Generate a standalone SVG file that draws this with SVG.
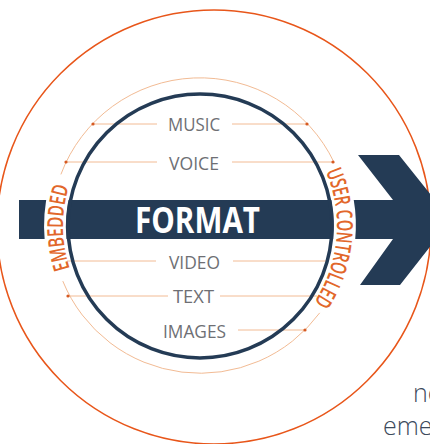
<svg xmlns="http://www.w3.org/2000/svg" width="430" height="444" viewBox="0 0 430 444">
<style>
.item{font-family:"Open Sans","Liberation Sans",sans-serif;font-size:18px;fill:#6e6f74;text-anchor:middle;}
.side{font-family:"Open Sans","Liberation Sans",sans-serif;font-size:22px;font-weight:600;fill:#e2672a;}
.ln{stroke:#f2bb94;stroke-width:1;fill:none;}
.dot{fill:#d65a22;}
.navy{fill:#243b55;}
.frag{font-family:"Open Sans","Liberation Sans",sans-serif;font-size:25px;font-weight:300;fill:#3c4a5c;}
</style>
<defs>
<path id="pR" d="M297.2,129.5 A137,137 0 0 1 278.2,338.5"/>
<path id="pL" d="M113.2,332 A137,137 0 0 1 110.7,122.1"/>
</defs>
<rect width="430" height="444" fill="#fff"/>
<g id="outer-circle"><circle cx="214" cy="227" r="217" fill="none" stroke="#e8561a" stroke-width="1.5"/></g>
<g id="format-arrow">
<polygon class="navy" points="19,200 393,200 358,155 399,155 451,220 400,285 360,285 393,239 19,239"/>
</g>
<g id="label-gaps" fill="none" stroke="#fff" stroke-width="22">
<path d="M331.4,164.7 A146,146 0 0 1 317.3,311.2"/>
<path d="M63.7,275.6 A146,146 0 0 1 62.9,178.8"/>
</g>
<g id="connectors">
<path class="ln" d="M60.9,174.4 A148.5,148.5 0 0 1 334.1,162.5" stroke="#f6cdb0"/>
<path class="ln" d="M319.7,312.9 A148.5,148.5 0 0 1 62.8,281.1" stroke="#f6cdb0"/>
<line class="ln" x1="93" y1="124" x2="157" y2="124"/>
<line class="ln" x1="232" y1="124" x2="307" y2="124"/>
<line class="ln" x1="66" y1="162" x2="157" y2="162"/>
<line class="ln" x1="232" y1="162" x2="333" y2="162"/>
<line class="ln" x1="67" y1="261" x2="156" y2="261"/>
<line class="ln" x1="233" y1="261" x2="327" y2="261"/>
<line class="ln" x1="68" y1="296" x2="168" y2="296"/>
<line class="ln" x1="220" y1="296" x2="317" y2="296"/>
<line class="ln" x1="238" y1="330" x2="305" y2="330"/>
<circle class="dot" cx="93" cy="124" r="1.6"/>
<circle class="dot" cx="307" cy="124" r="1.6"/>
<circle class="dot" cx="66" cy="162" r="1.6"/>
<circle class="dot" cx="333" cy="162" r="1.6"/>
<circle class="dot" cx="68" cy="296" r="1.6"/>
<circle class="dot" cx="305" cy="330" r="1.6"/>
</g>
<g id="inner-circle"><circle cx="200" cy="226" r="132" fill="none" stroke="#243b55" stroke-width="3.5"/></g>
<g id="format-label"><text x="197.5" y="233" font-family="'Open Sans','Liberation Sans',sans-serif" font-size="36" font-weight="700" fill="#fff" text-anchor="middle" textLength="125" lengthAdjust="spacingAndGlyphs">FORMAT</text></g>
<g id="music"><text class="item" x="194" y="131" textLength="52" lengthAdjust="spacingAndGlyphs">MUSIC</text></g>
<g id="voice"><text class="item" x="194" y="170" textLength="50" lengthAdjust="spacingAndGlyphs">VOICE</text></g>
<g id="video"><text class="item" x="194.5" y="269" textLength="51" lengthAdjust="spacingAndGlyphs">VIDEO</text></g>
<g id="text"><text class="item" x="193.5" y="303" textLength="41" lengthAdjust="spacingAndGlyphs">TEXT</text></g>
<g id="images"><text class="item" x="194.5" y="338" textLength="63" lengthAdjust="spacingAndGlyphs">IMAGES</text></g>
<g id="embedded"><text class="side"><textPath href="#pL" startOffset="50%" text-anchor="middle" textLength="83" lengthAdjust="spacingAndGlyphs">EMBEDDED</textPath></text></g>
<g id="user-controlled"><text class="side"><textPath href="#pR" startOffset="50%" text-anchor="middle" textLength="137" lengthAdjust="spacingAndGlyphs">USER CONTROLLED</textPath></text></g>
<g id="fragments">
<text class="frag" x="413" y="402">no</text>
<text class="frag" x="383" y="435">eme</text>
</g>
</svg>
